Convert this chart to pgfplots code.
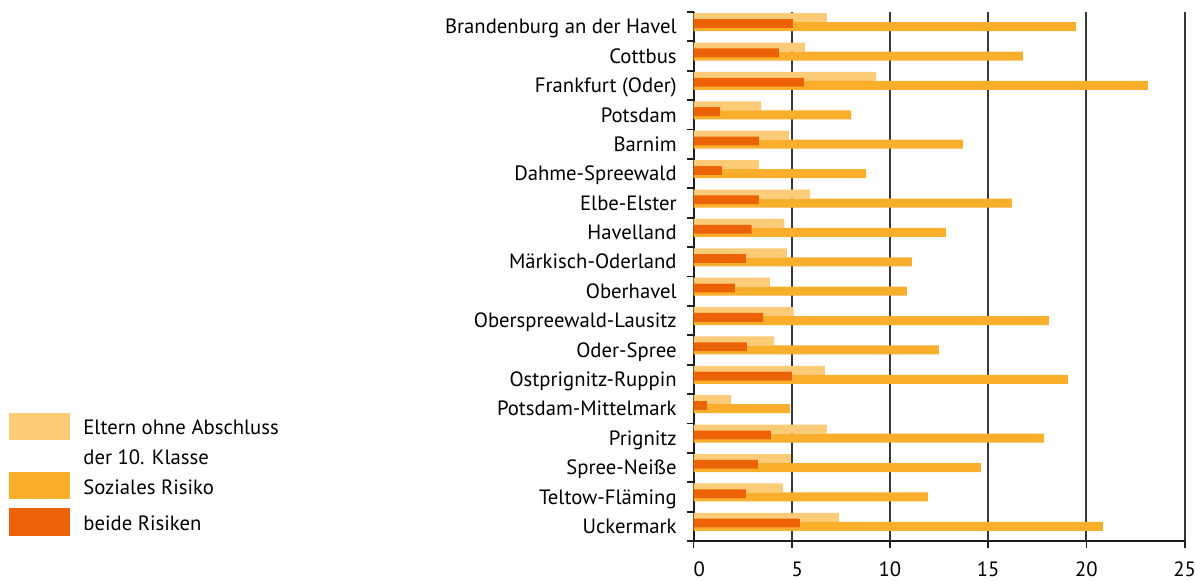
\documentclass[border=0pt]{standalone}
\usepackage{pgfplots}
\pgfplotsset{compat=1.18}
\usepackage{pgfplotstable}
\usepackage{fontspec}
\setmainfont{PT Sans}
\definecolor{cLight}{HTML}{FCCB78}
\definecolor{cMid}{HTML}{F9AE2C}
\definecolor{cDark}{HTML}{EB6306}
\pgfplotstableread{
y light social both
17 6.79 19.47 5.06
16 5.67 16.77 4.35
15 9.29 23.13 5.62
14 3.44 8.02 1.35
13 4.86 13.71 3.33
12 3.33 8.78 1.45
11 5.93 16.20 3.33
10 4.62 12.85 2.96
9 4.76 11.12 2.67
8 3.89 10.86 2.11
7 5.10 18.09 3.54
6 4.10 12.49 2.72
5 6.69 19.06 5.01
4 1.91 4.91 0.69
3 6.79 17.84 3.94
2 4.96 14.63 3.28
1 4.55 11.93 2.67
0 7.40 20.84 5.42
}\datatable
\begin{document}
\begin{tikzpicture}[font=\fontsize{10.35}{12}\selectfont]
\path[use as bounding box] (0,0) rectangle (597.5pt,290.5pt);
\begin{axis}[
  at={(346.75pt,20pt)}, anchor=south west,
  scale only axis, width=245.6pt, height=264.5pt,
  xmin=0, xmax=25, ymin=-0.5, ymax=17.5,
  axis x line*=bottom, axis y line*=left,
  axis line style={black!88, line width=1pt},
  xtick={0,5,...,25},
  xticklabels={\phantom{0}0,\phantom{0}5,10,15,20,25},
  ytick={0,...,17},
  yticklabels={Uckermark,Teltow-Fläming,Spree-Neiße,Prignitz,Potsdam-Mittelmark,Ostprignitz-Ruppin,Oder-Spree,Oberspreewald-Lausitz,Oberhavel,Märkisch-Oderland,Havelland,Elbe-Elster,Dahme-Spreewald,Barnim,Potsdam,Frankfurt (Oder),Cottbus,Brandenburg an der Havel},
  minor ytick={-0.5,0.5,...,17.5},
  tick align=outside,
  major tick length=3.5pt, minor tick length=3.5pt,
  major y tick style={draw=none},
  tick style={black!88, line width=0.9pt},
  xmajorgrids, major x grid style={black!78, line width=1pt},
  yticklabel style={anchor=base east, yshift=-3.6pt, xshift=-1.4pt},
  xticklabel style={anchor=north, inner sep=0pt, yshift=-6.8pt},
  clip=false,
]
\addplot[xbar, bar width=4.5pt, bar shift=4.5pt, fill=cLight, draw=none] table[x=light, y=y] {\datatable};
\addplot[xbar, bar width=4.5pt, bar shift=0pt, fill=cMid, draw=none] table[x=social, y=y] {\datatable};
\addplot[xbar, bar width=4.4pt, bar shift=1.6pt, fill=cDark, draw=none] table[x=both, y=y] {\datatable};
\end{axis}
\fill[cLight] (4.5pt,70.5pt) rectangle (35pt,84.15pt);
\fill[cMid] (4.5pt,41pt) rectangle (35pt,54.5pt);
\fill[cDark] (4.5pt,22.5pt) rectangle (35pt,36.65pt);
\node[anchor=base west, inner sep=0pt] at (41.5pt,73pt) {Eltern ohne Abschluss};
\node[anchor=base west, inner sep=0pt] at (41.5pt,58pt) {der 10. Klasse};
\node[anchor=base west, inner sep=0pt] at (41.5pt,43pt) {Soziales Risiko};
\node[anchor=base west, inner sep=0pt] at (41.5pt,25.15pt) {beide Risiken};
\end{tikzpicture}
\end{document}
